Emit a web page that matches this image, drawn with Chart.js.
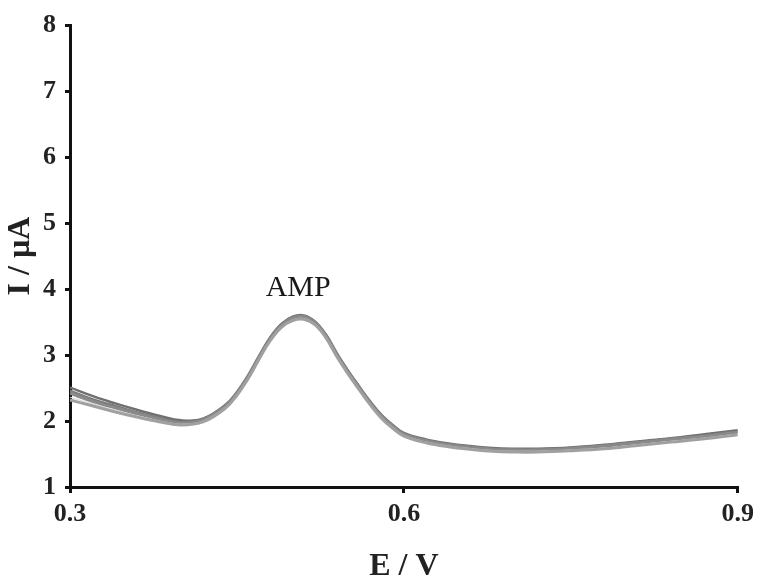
<!DOCTYPE html>
<html>
<head>
<meta charset="utf-8">
<script src="https://cdn.jsdelivr.net/npm/chart.js@4.4.1/dist/chart.umd.min.js"></script>
<style>
html,body{margin:0;padding:0;background:#fff;}
#wrap{width:760px;height:578px;}
</style>
</head>
<body>
<div id="wrap"><canvas id="c" width="760" height="578"></canvas></div>
<script>
const potentials = [0.30,0.32,0.34,0.36,0.38,0.40,0.42,0.44,0.45,0.46,0.47,0.48,0.49,0.50,0.51,0.52,0.53,0.54,0.55,0.56,0.57,0.58,0.59,0.60,0.62,0.64,0.66,0.68,0.70,0.72,0.75,0.78,0.81,0.84,0.87,0.90];
const run1 = [2.42,2.30,2.20,2.11,2.03,1.97,2.02,2.23,2.42,2.67,2.97,3.25,3.45,3.56,3.58,3.49,3.29,3.00,2.74,2.50,2.27,2.07,1.92,1.80,1.70,1.64,1.60,1.57,1.56,1.56,1.58,1.62,1.67,1.72,1.77,1.83];
const run2 = [2.51,2.38,2.27,2.17,2.08,2.01,2.04,2.25,2.44,2.69,2.99,3.27,3.47,3.58,3.60,3.51,3.31,3.02,2.76,2.52,2.29,2.09,1.94,1.82,1.72,1.66,1.62,1.59,1.58,1.58,1.60,1.64,1.69,1.74,1.80,1.86];
const run3 = [2.46,2.33,2.23,2.13,2.05,1.98,2.03,2.24,2.43,2.68,2.98,3.26,3.46,3.57,3.59,3.50,3.30,3.01,2.75,2.51,2.28,2.08,1.93,1.81,1.71,1.65,1.61,1.58,1.57,1.57,1.59,1.63,1.68,1.73,1.78,1.84];
const run4 = [2.36,2.26,2.17,2.08,2.00,1.95,2.00,2.21,2.40,2.65,2.95,3.23,3.43,3.53,3.55,3.47,3.27,2.98,2.72,2.48,2.25,2.05,1.90,1.78,1.68,1.62,1.58,1.55,1.54,1.54,1.56,1.59,1.64,1.69,1.74,1.80];
const run5 = [2.32,2.23,2.14,2.06,1.99,1.94,1.99,2.20,2.39,2.64,2.94,3.22,3.42,3.52,3.54,3.46,3.26,2.97,2.71,2.47,2.24,2.04,1.89,1.77,1.67,1.61,1.57,1.54,1.53,1.53,1.55,1.58,1.63,1.68,1.73,1.79];
const xTicks = [0.3, 0.6, 0.9];
const yTicks = [1, 2, 3, 4, 5, 6, 7, 8];
const peakLabel = "AMP";
const peakLabelPos = {E: 0.505, I: 3.9};

const FONT = "'Liberation Serif', 'Times New Roman', serif";

function toPts(ys){ return potentials.map((x,i)=>({x:x, y:ys[i]})); }

const runs = [
  {data: run5, color: '#a0a0a0', w: 3},
  {data: run4, color: '#dcdcdc', w: 1.2},
  {data: run1, color: '#8a8a8a', w: 3},
  {data: run3, color: '#7c7c7c', w: 2.5},
  {data: run2, color: '#707070', w: 2.5},
];

const labelPlugin = {
  id: 'peakLabel',
  afterDatasetsDraw(chart){
    const {ctx, scales} = chart;
    ctx.save();
    ctx.font = "30px " + FONT;
    ctx.fillStyle = '#1a1a1a';
    ctx.textAlign = 'center';
    ctx.textBaseline = 'alphabetic';
    ctx.fillText(peakLabel, scales.x.getPixelForValue(peakLabelPos.E), scales.y.getPixelForValue(peakLabelPos.I));
    ctx.restore();
  }
};

new Chart(document.getElementById('c'), {
  type: 'line',
  data: {
    datasets: runs.map((r,i)=>({
      label: 'run ' + (i+1),
      data: toPts(r.data),
      borderColor: r.color,
      borderWidth: r.w,
      pointRadius: 0,
      fill: false,
      tension: 0.4
    }))
  },
  options: {
    responsive: false,
    animation: false,
    layout: {padding: {left: 0, right: 20, top: 25, bottom: 0}},
    plugins: {legend: {display: false}, tooltip: {enabled: false}},
    scales: {
      x: {
        type: 'linear',
        min: 0.3, max: 0.9,
        afterBuildTicks(scale){ scale.ticks = xTicks.map(v=>({value: v})); },
        afterFit(scale){ scale.height = 91; },
        border: {display: true, color: '#111', width: 3},
        grid: {display: true, drawOnChartArea: false, drawTicks: true, tickLength: 6, color: '#111', lineWidth: 3},
        ticks: {
          color: '#222', padding: 6,
          font: {family: FONT, size: 26, weight: 'bold'},
          maxRotation: 0,
          callback: v => Number(v).toFixed(1)
        },
        title: {display: true, text: 'E / V', color: '#222', padding: {top: 0, bottom: 0},
          font: {family: FONT, size: 32, weight: 'bold', lineHeight: 0.7}}
      },
      y: {
        type: 'linear',
        min: 1, max: 8,
        afterBuildTicks(scale){ scale.ticks = yTicks.map(v=>({value: v})); },
        afterFit(scale){ scale.width = 70; },
        border: {display: true, color: '#111', width: 3},
        grid: {display: true, drawOnChartArea: false, drawTicks: true, tickLength: 5, color: '#111', lineWidth: 3},
        ticks: {
          color: '#222', padding: 9,
          font: {family: FONT, size: 26, weight: 'bold'}
        },
        title: {display: true, text: 'I / µA', color: '#222', padding: {top: 2, bottom: 0},
          font: {family: FONT, size: 32, weight: 'bold', lineHeight: 1.2}}
      }
    }
  },
  plugins: [labelPlugin]
});
</script>
</body>
</html>
